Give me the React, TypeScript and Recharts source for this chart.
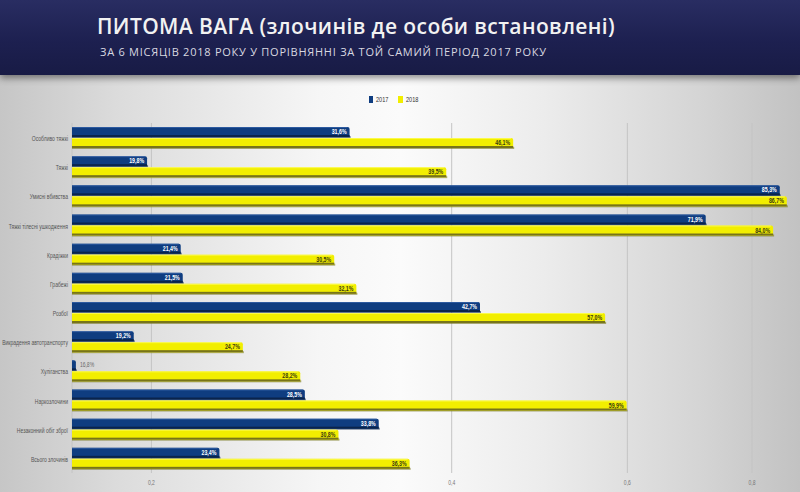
import React from "react";
import {
  BarChart,
  Bar,
  XAxis,
  YAxis,
  CartesianGrid,
  LabelList,
} from "recharts";

const categories = [
  "Особливо тяжкі",
  "Тяжкі",
  "Умисні вбивства",
  "Тяжкі тілесні ушкодження",
  "Крадіжки",
  "Грабежі",
  "Розбої",
  "Викрадення автотранспорту",
  "Хуліганства",
  "Наркозлочини",
  "Незаконний обіг зброї",
  "Всього злочинів",
];

// percent values
const values2017 = [31.6, 19.8, 85.3, 71.9, 21.4, 21.5, 42.7, 19.2, 16.8, 28.5, 33.8, 23.4];
const values2018 = [46.1, 39.5, 86.7, 84.0, 30.5, 32.1, 57.0, 24.7, 28.2, 59.9, 30.8, 36.3];

const xTicks = [0.2, 0.4, 0.6, 0.8];

const NAVY = "#0f3d80";
const YELLOW = "#f2ee00";
const FONT = "'Liberation Sans', Arial, sans-serif";

const rows = categories.map((name, i) => ({
  name,
  y2017: values2017[i] / 100,
  y2018: values2018[i] / 100,
}));

const fmtPct = (v: number) => (v * 100).toFixed(1).replace(".", ",") + "%";

// squeezed text, the original uses a condensed face
function NarrowText({ x, y, anchor = "start", size = 7, fill, bold = false, squeeze = 0.72, children }: any) {
  return (
    <g transform={`translate(${x},${y}) scale(${squeeze},1)`}>
      <text
        x={0}
        y={0}
        dy="0.35em"
        textAnchor={anchor}
        fontSize={size}
        fontWeight={bold ? "bold" : "normal"}
        fill={fill}
        fontFamily={FONT}
      >
        {children}
      </text>
    </g>
  );
}

function BarShape(props: any) {
  const { x, y, width, height, fill } = props;
  if (!width || width <= 0) return null;
  const r = Math.min(2, width / 2);
  const dark = fill === YELLOW ? "#77741a" : "#0a244c";
  const light = fill === YELLOW ? "#ffff6a" : "#3b67ad";
  const path = `M${x},${y} H${x + width - r} Q${x + width},${y} ${x + width},${y + r} V${y + height} H${x} Z`;
  return (
    <g>
      <rect x={x} y={y + height - 1} width={width + 1} height={2} fill={dark} opacity={0.6} />
      <path d={path} fill={fill} />
      <rect x={x} y={y} width={Math.max(0, width - r)} height={1} fill={light} opacity={0.7} />
      <rect x={x} y={y + height - 2} width={width} height={2} fill={dark} />
    </g>
  );
}

function makeLabel(textColor: string) {
  return (props: any) => {
    const { x, y, width, height, value } = props;
    const cy = y + height / 2 - 0.5;
    if (width < 20) {
      return (
        <NarrowText x={x + width + 4} y={cy} fill="#6b6b6b">
          {fmtPct(value)}
        </NarrowText>
      );
    }
    return (
      <NarrowText x={x + width - 3} y={cy} anchor="end" fill={textColor} bold size={7.3}>
        {fmtPct(value)}
      </NarrowText>
    );
  };
}

function CategoryTick(props: any) {
  const { x, y, payload } = props;
  return (
    <NarrowText x={x} y={y + 1} anchor="end" fill="#555" size={7}>
      {payload.value}
    </NarrowText>
  );
}

function ValueTick(props: any) {
  const { x, y, payload } = props;
  return (
    <NarrowText x={x} y={y + 4} anchor="middle" fill="#777" size={7}>
      {String(payload.value).replace(".", ",")}
    </NarrowText>
  );
}

export default function App() {
  return (
    <div
      style={{
        position: "absolute",
        left: 0,
        top: 0,
        width: 800,
        height: 492,
        overflow: "hidden",
        background:
          "linear-gradient(to right, #c6c6c6 0%, #dcdcdc 15%, #f6f6f6 40%, #fbfbfb 50%, #ececec 68%, #d4d4d4 88%, #c2c2c2 100%)",
      }}
    >
      <div
        style={{
          position: "absolute",
          left: 0,
          top: 0,
          width: 800,
          height: 75,
          background: "linear-gradient(to bottom, #292d62 0%, #1d2050 55%, #181b45 100%)",
          boxShadow: "0 3px 7px rgba(0,0,0,0.45)",
          zIndex: 2,
        }}
      >
        <div
          style={{
            position: "absolute",
            left: 97,
            top: 12,
            color: "#f2f2f2",
            fontFamily: "'Open Sans', sans-serif",
            fontWeight: 600,
            fontSize: 21,
            letterSpacing: 0.4,
            whiteSpace: "nowrap",
          }}
        >
          ПИТОМА ВАГА (злочинів де особи встановлені)
        </div>
        <div
          style={{
            position: "absolute",
            left: 100,
            top: 44,
            color: "#d8d8e0",
            fontFamily: "'Open Sans', sans-serif",
            fontSize: 11,
            letterSpacing: 0.75,
            whiteSpace: "nowrap",
          }}
        >
          ЗА 6 МІСЯЦІВ 2018 РОКУ У ПОРІВНЯННІ ЗА ТОЙ САМИЙ ПЕРІОД 2017 РОКУ
        </div>
      </div>

      <svg
        width={80}
        height={12}
        style={{ position: "absolute", left: 367, top: 94, zIndex: 3 }}
      >
        <rect x={2} y={2} width={4} height={7} fill={NAVY} />
        <NarrowText x={9} y={6} fill="#333" size={7} squeeze={0.8}>2017</NarrowText>
        <rect x={31} y={2} width={5} height={7} fill={YELLOW} />
        <NarrowText x={39} y={6} fill="#333" size={7} squeeze={0.8}>2018</NarrowText>
      </svg>

      <div style={{ position: "absolute", left: 0, top: 75 }}>
        <BarChart
          width={810}
          height={417}
          data={rows}
          layout="vertical"
          margin={{ top: 48, right: 7, left: 0, bottom: 0 }}
          barSize={10}
          barGap={1}
        >
          <CartesianGrid horizontal={false} stroke="#c4c4c4" />
          <XAxis
            type="number"
            scale="log"
            domain={[0.1665, 0.9]}
            allowDataOverflow
            ticks={xTicks}
            axisLine={false}
            tickLine={false}
            tickSize={4}
            height={19}
            tick={<ValueTick />}
          />
          <YAxis
            type="category"
            dataKey="name"
            width={72}
            axisLine={false}
            tickLine={false}
            tickSize={0}
            tickMargin={4}
            interval={0}
            tick={<CategoryTick />}
          />
          <Bar dataKey="y2017" name="2017" fill={NAVY} shape={BarShape} isAnimationActive={false}>
            <LabelList dataKey="y2017" content={makeLabel("#ffffff")} />
          </Bar>
          <Bar dataKey="y2018" name="2018" fill={YELLOW} shape={BarShape} isAnimationActive={false}>
            <LabelList dataKey="y2018" content={makeLabel("#3a3a10")} />
          </Bar>
        </BarChart>
      </div>
    </div>
  );
}
